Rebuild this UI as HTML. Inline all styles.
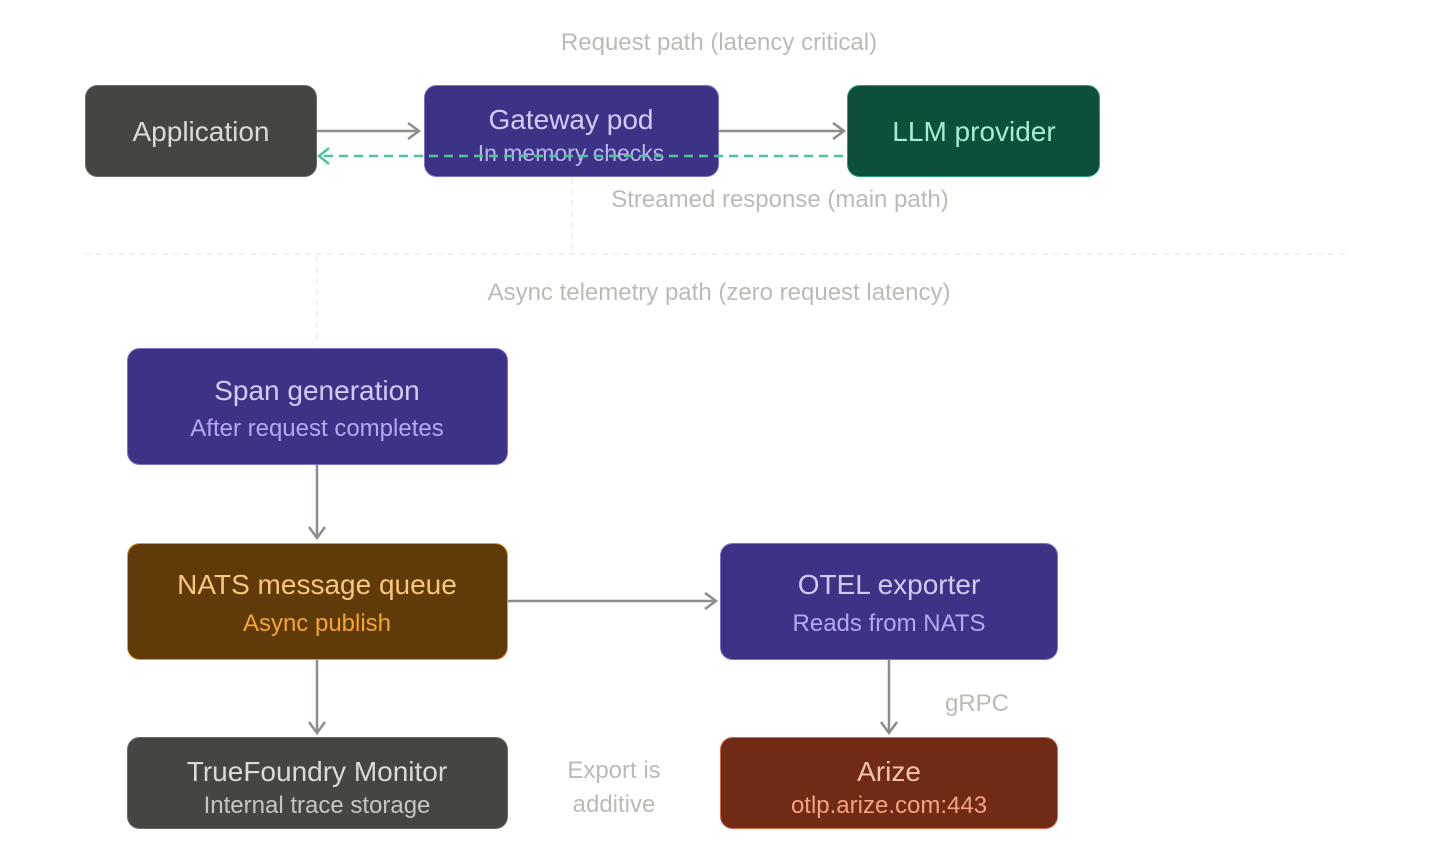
<!DOCTYPE html>
<html><head><meta charset="utf-8"><style>
body{margin:0;background:#fff}
svg{display:block;font-family:"Liberation Sans",sans-serif}
</style></head><body>
<svg width="1440" height="848" viewBox="0 0 1440 848" xmlns="http://www.w3.org/2000/svg">
<g stroke="#e6e6e6" stroke-width="1.2" stroke-dasharray="6 5" fill="none">
<line x1="85" y1="254" x2="1345" y2="254"/>
<line x1="572" y1="178" x2="572" y2="250"/>
<line x1="317" y1="256" x2="317" y2="345"/>
</g>
<g font-size="24" fill="#bdbab3" text-anchor="middle">
<text x="719" y="50">Request path (latency critical)</text>
<text x="780" y="207">Streamed response (main path)</text>
<text x="719" y="300">Async telemetry path (zero request latency)</text>
<text x="977" y="711">gRPC</text>
<text x="614" y="778">Export is</text>
<text x="614" y="812">additive</text>
</g>
<rect x="85.5" y="85.5" width="231" height="91" rx="12" fill="#454542" stroke="#6a6a66"/>
<text x="201" y="141" font-size="28" fill="#dcdad3" text-anchor="middle">Application</text>
<rect x="424.5" y="85.5" width="294" height="91" rx="12" fill="#3d3386" stroke="#7d70d0"/>
<text x="571" y="129" font-size="28" fill="#d2ccf6" text-anchor="middle">Gateway pod</text>
<text x="571" y="161" font-size="23" fill="#bcb3f0" text-anchor="middle">In memory checks</text>
<rect x="847.5" y="85.5" width="252" height="91" rx="12" fill="#0b4f3c" stroke="#2a9f78"/>
<text x="974" y="141" font-size="28" fill="#a8ecd0" text-anchor="middle">LLM provider</text>
<rect x="127.5" y="348.5" width="380" height="116" rx="12" fill="#3d3386" stroke="#7d70d0"/>
<text x="317" y="400" font-size="28" fill="#d2ccf6" text-anchor="middle">Span generation</text>
<text x="317" y="436" font-size="24" fill="#b3a9ef" text-anchor="middle">After request completes</text>
<rect x="127.5" y="543.5" width="380" height="116" rx="12" fill="#613a09" stroke="#e69b2e"/>
<text x="317" y="594" font-size="28" fill="#f7c77c" text-anchor="middle">NATS message queue</text>
<text x="317" y="631" font-size="24" fill="#f2a634" text-anchor="middle">Async publish</text>
<rect x="720.5" y="543.5" width="337" height="116" rx="12" fill="#3d3386" stroke="#7d70d0"/>
<text x="889" y="594" font-size="28" fill="#d2ccf6" text-anchor="middle">OTEL exporter</text>
<text x="889" y="631" font-size="24" fill="#b3a9ef" text-anchor="middle">Reads from NATS</text>
<rect x="127.5" y="737.5" width="380" height="91" rx="12" fill="#454542" stroke="#6a6a66"/>
<text x="317" y="781" font-size="28" fill="#dcdad3" text-anchor="middle">TrueFoundry Monitor</text>
<text x="317" y="813" font-size="24" fill="#c8c6c0" text-anchor="middle">Internal trace storage</text>
<rect x="720.5" y="737.5" width="337" height="91" rx="12" fill="#712b14" stroke="#d8694a"/>
<text x="889" y="781" font-size="28" fill="#f6c3ab" text-anchor="middle">Arize</text>
<text x="889" y="813" font-size="24" fill="#f2a184" text-anchor="middle">otlp.arize.com:443</text>
<g stroke="#8f8d88" stroke-width="2.5" fill="none">
<line x1="317" y1="131" x2="418" y2="131"/><polyline points="408,123 419,131 408,139"/>
<line x1="719" y1="131" x2="843" y2="131"/><polyline points="833,123 844,131 833,139"/>
<line x1="317" y1="465" x2="317" y2="537"/><polyline points="309,527 317,538 325,527"/>
<line x1="508" y1="601" x2="715" y2="601"/><polyline points="705,593 716,601 705,609"/>
<line x1="317" y1="660" x2="317" y2="732"/><polyline points="309,722 317,733 325,722"/>
<line x1="889" y1="660" x2="889" y2="732"/><polyline points="881,722 889,733 897,722"/>
</g>
<g stroke="#4fc49a" stroke-width="2.5" fill="none">
<line x1="843" y1="156" x2="320" y2="156" stroke-dasharray="9 6"/>
<polyline points="329,148 319,156 329,164"/>
</g>
</svg>
</body></html>
